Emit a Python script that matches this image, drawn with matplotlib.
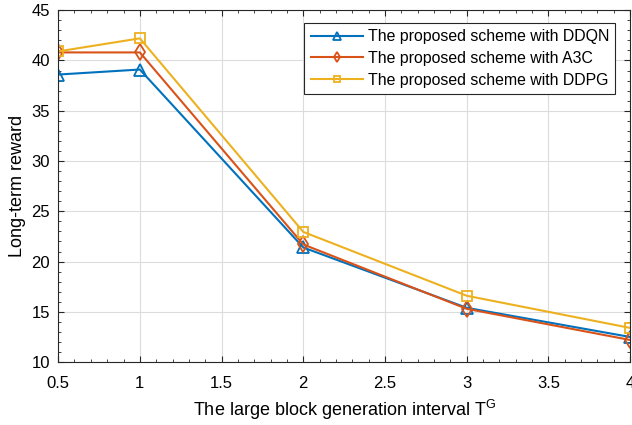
import matplotlib.pyplot as plt
from matplotlib.ticker import MultipleLocator

plt.rcParams['font.family'] = ['Liberation Sans', 'DejaVu Sans']

# block generation interval
interval = [0.5, 1, 2, 3, 4]
reward_ddqn = [38.6, 39.1, 21.4, 15.4, 12.5]
reward_a3c = [40.8, 40.8, 21.7, 15.3, 12.2]
reward_ddpg = [40.9, 42.2, 22.95, 16.6, 13.4]

labels = ['The proposed scheme with DDQN',
          'The proposed scheme with A3C',
          'The proposed scheme with DDPG']

fig = plt.figure(figsize=(6.32, 4.25), dpi=100)
ax = fig.add_axes([0.092, 0.148, 0.905, 0.828])

ax.plot(interval, reward_ddqn, color='#0072BD', marker='^', mfc='none', ms=8, mew=1.3, lw=1.5, label=labels[0])
ax.plot(interval, reward_a3c, color='#D95319', marker='d', mfc='none', ms=8, mew=1.3, lw=1.5, label=labels[1])
ax.plot(interval, reward_ddpg, color='#EDB120', marker='s', mfc='none', ms=6.5, mew=1.3, lw=1.5, label=labels[2])

ax.set_xlim(0.5, 4)
ax.set_ylim(10, 45)
ax.xaxis.set_major_locator(MultipleLocator(0.5))
ax.xaxis.set_minor_locator(MultipleLocator(0.1))
ax.yaxis.set_major_locator(MultipleLocator(5))
ax.yaxis.set_minor_locator(MultipleLocator(1))
ax.tick_params(which='both', direction='in', top=True, right=True, labelsize=12, color='#262626')
ax.tick_params(which='major', length=4)
ax.tick_params(which='minor', length=2.2)
ax.tick_params(axis='x', which='major', pad=10)
ax.tick_params(axis='y', which='major', pad=5.8)
ax.set_xticks([0.5, 1, 1.5, 2, 2.5, 3, 3.5, 4])
ax.set_xticklabels(['0.5', '1', '1.5', '2', '2.5', '3', '3.5', '4'])
ax.grid(True, color='#dcdcdc', lw=0.8)
for s in ax.spines.values():
    s.set_color('#262626')
    s.set_linewidth(0.8)

ax.set_xlabel('The large block generation interval T$^\\mathregular{G}$', fontsize=13, labelpad=5)
ax.set_ylabel('Long-term reward', fontsize=13)

leg = ax.legend(loc='upper right', bbox_to_anchor=(0.974, 0.964), borderaxespad=0,
                fontsize=11.4, fancybox=False, edgecolor='#262626', framealpha=1,
                handlelength=3.3, handletextpad=0.3, markerscale=0.65,
                labelspacing=0.42, borderpad=0.4)
leg.get_frame().set_linewidth(0.8)

fig.savefig('out.png', dpi=100)
